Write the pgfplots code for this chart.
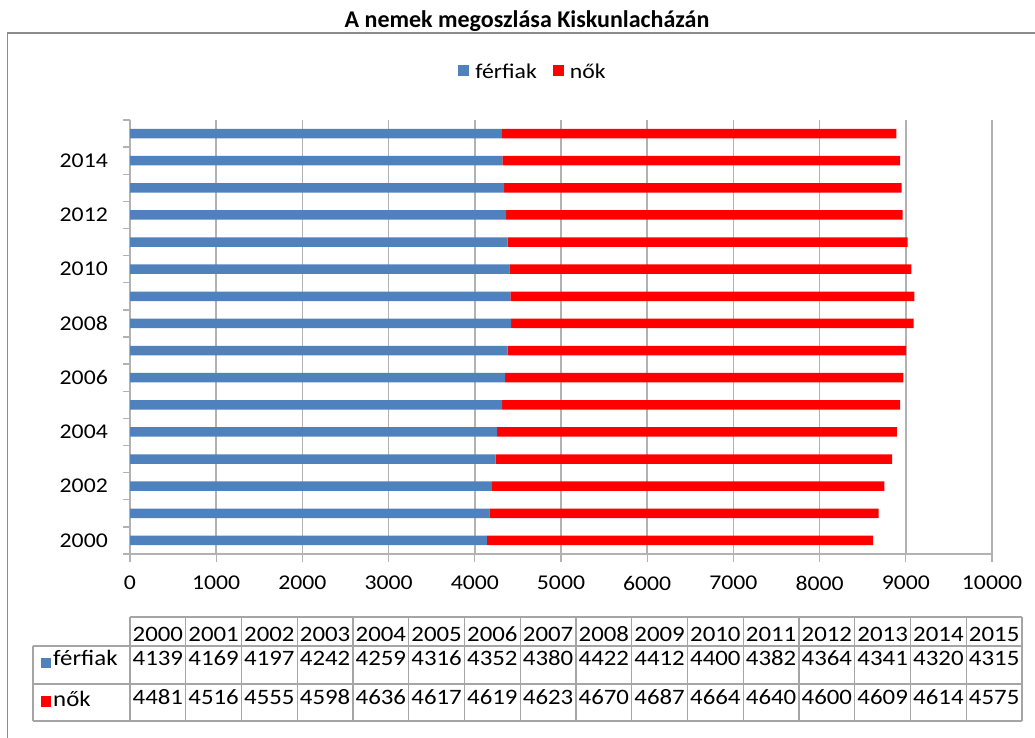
\documentclass[border=0pt]{standalone}
\usepackage{fontspec}
\setmainfont{Carlito}
\newfontfamily\wide{Carlito}[FakeStretch=1.13]
\usepackage{pgfplots}
\usepackage{pgfplotstable}
\pgfplotsset{compat=1.18}
\definecolor{mblue}{RGB}{79,129,189}
\definecolor{fred}{RGB}{255,0,0}
\definecolor{gridgray}{RGB}{178,178,178}
\definecolor{framegray}{RGB}{140,140,140}
\definecolor{tabgray}{RGB}{165,165,165}

\pgfplotstableread{
idx year ferfi no
0 2000 4139 4481
1 2001 4169 4516
2 2002 4197 4555
3 2003 4242 4598
4 2004 4259 4636
5 2005 4316 4617
6 2006 4352 4619
7 2007 4380 4623
8 2008 4422 4670
9 2009 4412 4687
10 2010 4400 4664
11 2011 4382 4640
12 2012 4364 4600
13 2013 4341 4609
14 2014 4320 4614
15 2015 4315 4575
}\datatable

\begin{document}
\begin{tikzpicture}[x=1pt,y=1pt]
\path[use as bounding box] (0,0) rectangle (1035,-738);
\draw[framegray, line width=1.5pt] (7.5,-738) -- (7.5,-33) -- (1036,-33);
\node[font=\bfseries\fontsize{24}{28}\selectfont, anchor=base, inner sep=0pt] at (527,-28) {A nemek megoszlása Kiskunlacházán};
\begin{axis}[
  at={(130pt,-554pt)}, anchor=south west,
  scale only axis, width=862pt, height=434pt,
  xbar stacked, bar width=9.5pt,
  xmin=0, xmax=10000, ymin=-0.5, ymax=15.5,
  axis lines=left,
  axis line style={draw=gridgray, line width=1.3pt, -},
  xtick={0,1000,...,10000},
  scaled x ticks=false,
  ytick={0,2,...,14},
  yticklabels={2000,2002,2004,2006,2008,2010,2012,2014},
  extra y ticks={-0.5,0.5,...,15.5},
  extra y tick labels={},
  extra y tick style={y tick style={draw=gridgray, line width=1.3pt}, major tick length=7pt},
  y tick style={draw=none},
  x tick style={draw=gridgray, line width=1.3pt},
  major tick length=8pt,
  tick align=outside,
  xmajorgrids, ymajorgrids=false,
  grid style={draw=gridgray, line width=1.5pt},
  tick label style={font=\wide\fontsize{21}{25}\selectfont},
  xticklabel style={inner sep=0pt, yshift=-14pt},
  yticklabel style={inner sep=0pt, xshift=-14pt},
  /pgf/number format/.cd, set thousands separator={}, assume math mode=true,
  /pgfplots/.cd,
  legend columns=2,
  legend style={at={(0.4675,1.111)}, anchor=center, draw=none, fill=none,
    font=\wide\fontsize{21}{25}\selectfont,
    /tikz/every odd column/.append style={column sep=4pt},
    /tikz/every even column/.append style={column sep=14pt}},
]
\addplot[fill=mblue, draw=none, legend image code/.code={\fill[mblue] (0pt,-4pt) rectangle (11pt,7pt);}] table[x=ferfi, y=idx]{\datatable};
\addplot[fill=fred, draw=none, legend image code/.code={\fill[fred] (0pt,-4pt) rectangle (11pt,7pt);}] table[x=no, y=idx]{\datatable};
\legend{férfiak, nők}
\end{axis}
% data table
\draw[tabgray, line width=1.2pt] (130,-617) -- (1022,-617);
\draw[tabgray, line width=1.2pt] (33,-646) -- (1022,-646);
\draw[tabgray, line width=1.2pt] (33,-684) -- (1022,-684);
\draw[tabgray, line width=1.2pt] (33,-721) -- (1022,-721);
\draw[tabgray, line width=1.2pt] (33,-646) -- (33,-721);
\foreach \k in {0,...,16} {
  \draw[tabgray, line width=1.2pt] ({130+55.75*\k},-617) -- ({130+55.75*\k},-721);
}
\fill[mblue] (41,-658) rectangle (51,-668);
\fill[fred] (41,-696) rectangle (51,-707);
\node[anchor=base west, inner sep=0pt, font=\wide\fontsize{22}{26}\selectfont] at (53,-665) {férfiak};
\node[anchor=base west, inner sep=0pt, font=\wide\fontsize{22}{26}\selectfont] at (53,-706) {nők};
\foreach \i in {0,...,15} {
  \pgfplotstablegetelem{\i}{year}\of\datatable \edef\yr{\pgfplotsretval}
  \pgfplotstablegetelem{\i}{ferfi}\of\datatable \edef\fv{\pgfplotsretval}
  \pgfplotstablegetelem{\i}{no}\of\datatable \edef\nv{\pgfplotsretval}
  \pgfmathsetmacro\xc{130+55.75*(\i+0.5)}
  \node[anchor=base, inner sep=0pt, font=\wide\fontsize{22}{26}\selectfont] at (\xc,-641) {\yr};
  \node[anchor=base, inner sep=0pt, font=\wide\fontsize{22}{26}\selectfont] at (\xc,-665) {\fv};
  \node[anchor=base, inner sep=0pt, font=\wide\fontsize{22}{26}\selectfont] at (\xc,-704) {\nv};
}
\end{tikzpicture}
\end{document}
